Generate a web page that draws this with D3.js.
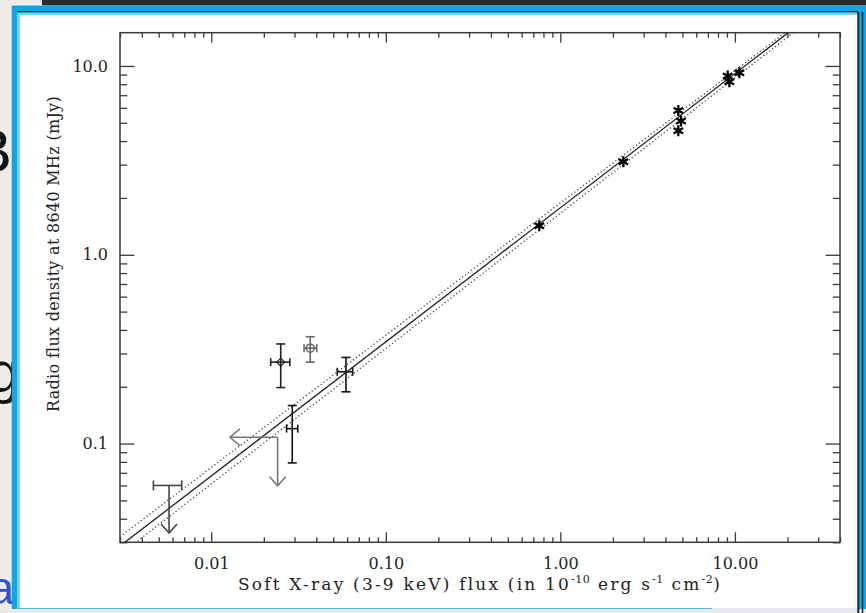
<!DOCTYPE html>
<html>
<head>
<meta charset="utf-8">
<script src="https://cdn.jsdelivr.net/npm/d3@7"></script>
<style>
  body { margin: 0; background: #efece7; }
  svg { display: block; }
</style>
</head>
<body>
<script>
// ---- data ----
var xDomain = [0.003, 40];
var yDomain = [0.03, 15];
var xTickVals = [0.01, 0.1, 1, 10];
var xTickLabels = ["0.01", "0.10", "1.00", "10.00"];
var yTickVals = [0.1, 1, 10];
var yTickLabels = ["0.1", "1.0", "10.0"];

// detections with error bars
var errX   = [0.0291, 0.025, 0.0369, 0.0591];
var errY   = [0.12, 0.27, 0.32, 0.24];
var errXlo = [0.0270, 0.0219, 0.0340, 0.0527];
var errXhi = [0.0313, 0.0282, 0.0402, 0.0646];
var errYlo = [0.079, 0.198, 0.27, 0.188];
var errYhi = [0.159, 0.337, 0.368, 0.286];

// asterisk points
var starX = [0.757, 2.294, 4.74, 4.91, 4.74, 9.09, 9.29, 10.6];
var starY = [1.426, 3.11, 5.80, 5.11, 4.54, 8.85, 8.25, 9.21];

// upper limits
var limX    = [0.00573, 0.024];
var limY    = [0.06, 0.108];
var limXlo  = [0.00466, null];
var limXhi  = [0.00677, null];
var limYtip = [0.0336, 0.0598];
var limXtip = [null, 0.0128];

// fit line and its two error lines (two points each)
var fitX0 = [0.0037, 0.0032, 0.0032];
var fitY0 = [0.03, 0.03, 0.0336];
var fitX1 = [21.6, 20.2, 19.36];
var fitY1 = [15, 15, 15];

// ---- layout ----
var W = 866, H = 613;
var plot = {left: 120, right: 840, top: 32.7, bottom: 542.3};
var axisColor = "#3a3a3a";
var font = "'DejaVu Serif', serif";
var slideFont = "'Liberation Sans', sans-serif";

var svg = d3.select("body").append("svg")
  .attr("width", W)
  .attr("height", H);

// slide background pieces (text of the slide behind the picture)
svg.append("rect").attr("width", W).attr("height", H).attr("fill", "#efece7");
svg.append("text").attr("x", 29).attr("y", 172).attr("text-anchor", "end")
  .attr("font-family", slideFont).attr("font-size", 61).attr("fill", "#111").text("B;");
svg.append("text").attr("x", 20).attr("y", 392).attr("text-anchor", "end")
  .attr("font-family", slideFont).attr("font-size", 58).attr("fill", "#111").text("gg");
svg.append("text").attr("x", 14).attr("y", 604).attr("text-anchor", "end")
  .attr("font-family", slideFont).attr("font-size", 46).attr("fill", "#2b55d6").text("a");
svg.append("rect").attr("x", 42).attr("y", 0).attr("width", W - 42).attr("height", 5.5).attr("fill", "#2a2a2a");
svg.append("rect").attr("x", 11.7).attr("y", 5.5).attr("width", W - 11.7).attr("height", 609 - 5.5).attr("fill", "#12a5e2");
svg.append("rect").attr("x", 17).attr("y", 11).attr("width", 841).attr("height", 1.5).attr("fill", "#1b2b3a");
svg.append("rect").attr("x", 17).attr("y", 12.5).attr("width", 841).attr("height", 596).attr("fill", "#7fd0f0");
svg.append("rect").attr("x", 20).attr("y", 15).attr("width", 837.3).attr("height", 593).attr("fill", "#ffffff");
svg.append("rect").attr("x", 857.3).attr("y", 12).attr("width", 2).attr("height", H - 12).attr("fill", "#1b2b3a");
svg.append("rect").attr("x", 861.7).attr("y", 12).attr("width", 1.6).attr("height", H - 12).attr("fill", "#1b2b3a");
svg.append("rect").attr("x", 0).attr("y", 611.5).attr("width", 857).attr("height", 2).attr("fill", "#e4e4ee");
svg.append("rect").attr("x", 712).attr("y", 608).attr("width", 145).attr("height", 5).attr("fill", "#e6e6ef");

// ---- scales ----
var x = d3.scaleLog().domain(xDomain).range([plot.left, plot.right]);
var y = d3.scaleLog().domain(yDomain).range([plot.bottom, plot.top]);

function isMajor(v, majors) {
  return majors.some(function(m) { return Math.abs(v / m - 1) < 1e-6; });
}
var minorX = x.ticks().filter(function(v) { return !isMajor(v, xTickVals); });
var minorY = y.ticks().filter(function(v) { return !isMajor(v, yTickVals); });

function styleAxis(g) {
  g.select(".domain").remove();
  g.selectAll(".tick line").attr("stroke", axisColor).attr("stroke-width", 1.3);
  g.selectAll(".tick text").attr("font-family", font).attr("font-size", 16).attr("fill", "#222");
}

var xLen = 10, yLen = 14.4;
// bottom
svg.append("g").attr("transform", "translate(0," + plot.bottom + ")")
  .call(d3.axisBottom(x).tickValues(xTickVals).tickFormat(function(d, i) { return xTickLabels[i]; })
    .tickSize(-xLen).tickSizeOuter(0).tickPadding(15))
  .call(styleAxis);
svg.append("g").attr("transform", "translate(0," + plot.bottom + ")")
  .call(d3.axisBottom(x).tickValues(minorX).tickFormat("").tickSize(-xLen / 2).tickSizeOuter(0))
  .call(styleAxis);
// top
svg.append("g").attr("transform", "translate(0," + plot.top + ")")
  .call(d3.axisTop(x).tickValues(xTickVals).tickFormat("").tickSize(-xLen).tickSizeOuter(0))
  .call(styleAxis);
svg.append("g").attr("transform", "translate(0," + plot.top + ")")
  .call(d3.axisTop(x).tickValues(minorX).tickFormat("").tickSize(-xLen / 2).tickSizeOuter(0))
  .call(styleAxis);
// left
svg.append("g").attr("transform", "translate(" + plot.left + ",0)")
  .call(d3.axisLeft(y).tickValues(yTickVals).tickFormat(function(d, i) { return yTickLabels[i]; })
    .tickSize(-yLen).tickSizeOuter(0).tickPadding(12))
  .call(styleAxis);
svg.append("g").attr("transform", "translate(" + plot.left + ",0)")
  .call(d3.axisLeft(y).tickValues(minorY).tickFormat("").tickSize(-yLen / 2).tickSizeOuter(0))
  .call(styleAxis);
// right
svg.append("g").attr("transform", "translate(" + plot.right + ",0)")
  .call(d3.axisRight(y).tickValues(yTickVals).tickFormat("").tickSize(-yLen).tickSizeOuter(0))
  .call(styleAxis);
svg.append("g").attr("transform", "translate(" + plot.right + ",0)")
  .call(d3.axisRight(y).tickValues(minorY).tickFormat("").tickSize(-yLen / 2).tickSizeOuter(0))
  .call(styleAxis);

// frame
svg.append("rect")
  .attr("x", plot.left).attr("y", plot.top)
  .attr("width", plot.right - plot.left).attr("height", plot.bottom - plot.top)
  .attr("fill", "none").attr("stroke", axisColor).attr("stroke-width", 1.5);

// ---- axis titles ----
svg.append("text")
  .attr("transform", "translate(53,254) rotate(-90)")
  .attr("text-anchor", "middle").attr("dominant-baseline", "central")
  .attr("font-family", font).attr("font-size", 16).attr("letter-spacing", 0.3).attr("fill", "#222")
  .text("Radio flux density at 8640 MHz (mJy)");

var xt = svg.append("text")
  .attr("x", (plot.left + plot.right) / 2).attr("y", 590)
  .attr("text-anchor", "middle")
  .attr("font-family", font).attr("font-size", 17).attr("letter-spacing", 2.2).attr("fill", "#222");
xt.append("tspan").text("Soft X-ray (3-9 keV) flux (in 10");
xt.append("tspan").attr("dy", -7).attr("font-size", 11).attr("letter-spacing", 0.5).text("-10");
xt.append("tspan").attr("dy", 7).text(" erg s");
xt.append("tspan").attr("dy", -7).attr("font-size", 11).attr("letter-spacing", 0.5).text("-1");
xt.append("tspan").attr("dy", 7).text(" cm");
xt.append("tspan").attr("dy", -7).attr("font-size", 11).attr("letter-spacing", 0.5).text("-2");
xt.append("tspan").attr("dy", 7).text(")");

// ---- fit lines (clipped to the plot) ----
svg.append("clipPath").attr("id", "plotclip").append("rect")
  .attr("x", plot.left).attr("y", plot.top)
  .attr("width", plot.right - plot.left).attr("height", plot.bottom - plot.top);
var fitG = svg.append("g").attr("clip-path", "url(#plotclip)");

fitX0.forEach(function(x0, i) {
  // extend the straight line (in log space) across the whole plot
  var lx0 = Math.log10(x0), ly0 = Math.log10(fitY0[i]);
  var lx1 = Math.log10(fitX1[i]), ly1 = Math.log10(fitY1[i]);
  var b = (ly1 - ly0) / (lx1 - lx0);
  var xa = xDomain[0], xb = xDomain[1];
  var ya = Math.pow(10, ly0 + b * (Math.log10(xa) - lx0));
  var yb = Math.pow(10, ly0 + b * (Math.log10(xb) - lx0));
  var solid = (i === 1);
  fitG.append("line")
    .attr("x1", x(xa)).attr("y1", y(ya))
    .attr("x2", x(xb)).attr("y2", y(yb))
    .attr("stroke", solid ? "#222" : "#555")
    .attr("stroke-width", solid ? 1.3 : 1.4)
    .attr("stroke-dasharray", solid ? null : "1.3,2.4");
});

// ---- error bar points ----
var errColor = ["#111", "#222", "#666", "#111"];
var capW = 4.5, capH = 4;
errX.forEach(function(xv, i) {
  var g = svg.append("g").attr("stroke", errColor[i]).attr("stroke-width", 1.6).attr("fill", "none");
  var cx = x(xv), cy = y(errY[i]);
  var yl = y(errYlo[i]), yh = y(errYhi[i]);
  var xl = x(errXlo[i]), xh = x(errXhi[i]);
  g.append("line").attr("x1", cx).attr("x2", cx).attr("y1", yl).attr("y2", yh);
  g.append("line").attr("x1", cx - capW).attr("x2", cx + capW).attr("y1", yl).attr("y2", yl);
  g.append("line").attr("x1", cx - capW).attr("x2", cx + capW).attr("y1", yh).attr("y2", yh);
  g.append("line").attr("x1", xl).attr("x2", xh).attr("y1", cy).attr("y2", cy);
  g.append("line").attr("x1", xl).attr("x2", xl).attr("y1", cy - capH).attr("y2", cy + capH);
  g.append("line").attr("x1", xh).attr("x2", xh).attr("y1", cy - capH).attr("y2", cy + capH);
  if (i === 1) {
    g.append("path").attr("transform", "translate(" + cx + "," + cy + ")")
      .attr("d", d3.symbol(d3.symbolDiamond2, 40)()).attr("stroke-width", 1.2);
  }
  if (i === 2) {
    g.append("circle").attr("cx", cx).attr("cy", cy).attr("r", 4).attr("stroke-width", 1.6);
  }
});

// ---- asterisks ----
svg.append("g").selectAll("path").data(starX).join("path")
  .attr("transform", function(d, i) { return "translate(" + x(d) + "," + y(starY[i]) + ")"; })
  .attr("d", d3.symbol(d3.symbolAsterisk, 85)())
  .attr("fill", "none").attr("stroke", "#000").attr("stroke-width", 2.3);

// ---- upper limits ----
var limColor = ["#444", "#777"];
limX.forEach(function(xv, i) {
  var g = svg.append("g").attr("stroke", limColor[i]).attr("stroke-width", 1.6).attr("fill", "none");
  var cx = x(xv), cy = y(limY[i]);
  if (limXlo[i] !== null) {
    var xl = x(limXlo[i]), xh = x(limXhi[i]);
    g.append("line").attr("x1", xl).attr("x2", xh).attr("y1", cy).attr("y2", cy);
    g.append("line").attr("x1", xl).attr("x2", xl).attr("y1", cy - 5).attr("y2", cy + 5);
    g.append("line").attr("x1", xh).attr("x2", xh).attr("y1", cy - 5).attr("y2", cy + 5);
  }
  if (limYtip[i] !== null) {
    var ty = y(limYtip[i]);
    g.append("line").attr("x1", cx).attr("x2", cx).attr("y1", cy).attr("y2", ty);
    g.append("path").attr("d", "M" + (cx - 8) + "," + (ty - 9) + "L" + cx + "," + ty + "L" + (cx + 8) + "," + (ty - 9));
  }
  if (limXtip[i] !== null) {
    var tx = x(limXtip[i]);
    g.append("line").attr("x1", cx).attr("x2", tx).attr("y1", cy).attr("y2", cy);
    g.append("path").attr("d", "M" + (tx + 10) + "," + (cy - 8.5) + "L" + tx + "," + cy + "L" + (tx + 10) + "," + (cy + 8.5));
  }
});
</script>
</body>
</html>
